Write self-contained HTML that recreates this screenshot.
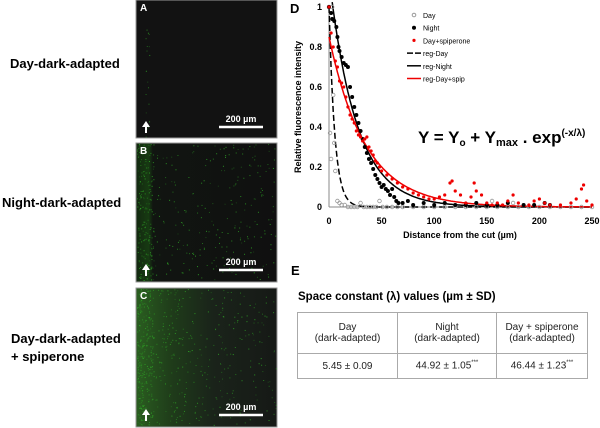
<!DOCTYPE html>
<html><head><meta charset="utf-8">
<style>
body{margin:0;background:#fff;font-family:"Liberation Sans",Arial,sans-serif;}
#wrap{position:relative;width:600px;height:428px;overflow:hidden;}
.lbl{position:absolute;font-weight:bold;font-size:13px;color:#000;}
table{border-collapse:collapse;font-size:10px;color:#222;}
</style></head><body>
<div id="wrap">
<div class="lbl" style="left:10px;top:56px">Day-dark-adapted</div>
<div class="lbl" style="left:2px;top:195px">Night-dark-adapted</div>
<div class="lbl" style="left:11px;top:330px;line-height:18px">Day-dark-adapted<br>+ spiperone</div>
<svg id="micro" width="600" height="428" style="position:absolute;left:0;top:0"></svg>
<svg id="chart" width="600" height="428" style="position:absolute;left:0;top:0"></svg>
<div class="lbl" style="left:291px;top:263px;font-size:13px">E</div>
<div style="position:absolute;left:298px;top:291px;font-size:11.5px;font-weight:bold">Space constant (λ) values (µm ± SD)</div>
<table style="position:absolute;left:297px;top:312px;width:291px;height:67px;border:1.5px solid #333">
<tr style="height:41px"><td style="border:1px solid #aaa;text-align:center;width:97px">Day<br>(dark-adapted)</td><td style="border:1px solid #aaa;text-align:center;width:96px">Night<br>(dark-adapted)</td><td style="border:1px solid #aaa;text-align:center">Day + spiperone<br>(dark-adapted)</td></tr>
<tr><td style="border:1px solid #aaa;text-align:center">5.45 ± 0.09</td><td style="border:1px solid #aaa;text-align:center">44.92 ± 1.05<sup style="font-size:6px">***</sup></td><td style="border:1px solid #aaa;text-align:center">46.44 ± 1.23<sup style="font-size:6px">***</sup></td></tr>
</table>
</div>
<script>
// ---- chart data ----
const dayX=[0,1,2,3,4,5,6,8,10,12,15,18,21,24,27,30,33,36,39,42,45,48,51,55,60,65,70,80,90,100,110,120,130,140,150,155,160,170,175,180,190,200,210,220,230,240,250];
const dayY=[1,0.37,0.24,1,0.56,0.32,0.18,0.03,0.02,0.01,0.01,0.0,0.0,0.0,0.0,0.02,0.0,0.0,0.0,0.0,0.0,0.03,0.0,0.0,0.0,0.0,0.0,0.0,0.0,0.0,0.0,0.0,0.0,0.0,0.0,0.03,0.0,0.0,0.02,0.0,0.0,0.0,0.0,0.0,0.0,0.0,0.0];
const nightX=[0,2,3,5,7,8,9,10,12,14,16,18,20,22,24,26,28,30,32,34,36,38,40,42,44,46,48,50,52,54,56,58,60,62,64,66,70,75,80,90,100,110,120,130,140,150,160,170,185,195,205,210];
const nightY=[1,0.97,0.94,0.93,0.9,0.85,0.8,0.78,0.75,0.72,0.71,0.7,0.6,0.55,0.5,0.46,0.42,0.38,0.34,0.3,0.27,0.24,0.22,0.19,0.16,0.14,0.12,0.1,0.11,0.09,0.08,0.06,0.09,0.05,0.03,0.02,0.02,0.03,0.01,0.02,0.01,0.02,0.01,0.01,0.02,0.01,0.01,0.02,0.01,0.01,0.02,0.01];
const spipX=[0,2,4,6,8,10,12,14,16,18,20,22,24,26,28,30,32,34,36,38,40,42,44,46,48,50,55,60,65,70,75,80,85,90,95,100,105,110,115,117,120,125,130,135,138,140,145,150,155,160,165,170,175,180,190,195,200,205,210,220,230,235,240,242,245,250];
const spipY=[1,0.87,0.8,0.73,0.7,0.63,0.62,0.6,0.55,0.5,0.46,0.44,0.42,0.38,0.36,0.35,0.33,0.34,0.35,0.3,0.28,0.26,0.23,0.22,0.2,0.18,0.16,0.14,0.12,0.1,0.09,0.07,0.06,0.05,0.04,0.04,0.05,0.06,0.12,0.13,0.08,0.06,0.02,0.05,0.12,0.08,0.06,0.02,0.01,0.02,0.01,0.03,0.06,0.02,0.01,0.03,0.04,0.02,0.01,0.01,0.02,0.04,0.09,0.11,0.03,0.01];
const fitYmax=[1.0,1.15,0.85];
const fitLambda=[5.45,26,34.6];
const fitStart=[0,3,0];
const xTicks=[0,50,100,150,200,250];
const yTicks=[0,0.2,0.4,0.6,0.8,1];

const NS='http://www.w3.org/2000/svg';
function mk(p,t,a){const e=document.createElementNS(NS,t);for(const k in a)e.setAttribute(k,a[k]);p.appendChild(e);return e;}
const X0=329,X1=592,Y0=207,Y1=7;
const sx=v=>X0+(v/250)*(X1-X0);
const sy=v=>Y0-v*(Y0-Y1);
const c=document.getElementById('chart');
let e;
e=mk(c,'text',{x:290,y:13,'font-size':13,'font-weight':'bold','font-family':'Liberation Sans'});e.textContent='D';


e=mk(c,'line',{x1:X0,y1:Y1,x2:X0,y2:Y0,stroke:'#888'});


e=mk(c,'line',{x1:X0,y1:Y0,x2:X1,y2:Y0,stroke:'#888'});


xTicks.forEach(t=>{e=mk(c,'text',{x:sx(t),y:224,'font-size':9,'font-weight':'bold','text-anchor':'middle','font-family':'Liberation Sans'});e.textContent=t;

});
yTicks.forEach(t=>{e=mk(c,'text',{x:X0-7,y:sy(t)+3,'font-size':9,'font-weight':'bold','text-anchor':'end','font-family':'Liberation Sans'});e.textContent=t;

});
e=mk(c,'text',{x:460,y:238,'font-size':9,'font-weight':'bold','text-anchor':'middle','font-family':'Liberation Sans'});e.textContent='Distance from the cut (µm)';


e=mk(c,'text',{x:0,y:0,'font-size':9,'font-weight':'bold','text-anchor':'middle','font-family':'Liberation Sans',transform:'translate(301,107) rotate(-90)'});e.textContent='Relative fluorescence intensity';


const fitCol=['#000','#000','#e00'];
for(let k=0;k<3;k++){let d='';for(let x=fitStart[k];x<=250;x+=1){d+=(d?'L':'M')+sx(x).toFixed(1)+','+sy(fitYmax[k]*Math.exp(-x/fitLambda[k])).toFixed(1);}
e=mk(c,'path',{d:d,fill:'none',stroke:fitCol[k],'stroke-width':1.5,'stroke-dasharray':k==0?'6,3':'none'});

}
dayX.forEach((x,i)=>{e=mk(c,'circle',{cx:sx(x),cy:sy(dayY[i]),r:1.8,fill:'none',stroke:'#999','stroke-width':0.8});

});
nightX.forEach((x,i)=>{e=mk(c,'circle',{cx:sx(x),cy:sy(nightY[i]),r:2,fill:'#000'});

});
spipX.forEach((x,i)=>{e=mk(c,'circle',{cx:sx(x),cy:sy(spipY[i]),r:1.6,fill:'#e00'});

});
const leg=[['Day','o'],['Night','n'],['Day+spiperone','s'],['reg-Day','d'],['reg-Night','l'],['reg-Day+spip','r']];
leg.forEach((l,i)=>{const y=15+i*12.7;
if(l[1]=='o')mk(c,'circle',{cx:414,cy:y,r:1.8,fill:'none',stroke:'#999'});
if(l[1]=='n')mk(c,'circle',{cx:414,cy:y,r:2,fill:'#000'});
if(l[1]=='s')mk(c,'circle',{cx:414,cy:y,r:1.6,fill:'#e00'});
if(l[1]=='d')mk(c,'line',{x1:407,y1:y,x2:421,y2:y,stroke:'#000','stroke-width':1.5,'stroke-dasharray':'6,2'});
if(l[1]=='l')mk(c,'line',{x1:407,y1:y,x2:421,y2:y,stroke:'#000','stroke-width':1.5});
if(l[1]=='r')mk(c,'line',{x1:407,y1:y,x2:421,y2:y,stroke:'#e00','stroke-width':1.5});
e=mk(c,'text',{x:423,y:y+3,'font-size':7,'font-family':'Liberation Sans'});e.textContent=l[0];

});
e=mk(c,'text',{x:418,y:143,'font-size':17,'font-weight':'bold','font-family':'Liberation Sans'});
e.innerHTML='Y = Y<tspan font-size="10" dy="3">o</tspan><tspan dy="-3"> + Y</tspan><tspan font-size="11" dy="3">max</tspan><tspan dy="-3"> . exp</tspan><tspan font-size="10" dy="-7">(-x/λ)</tspan>';



// ---- micrographs (texture) ----
const m=document.getElementById('micro');
let seed=7;const rnd=()=>{seed=(seed*16807)%2147483647;return seed/2147483647;};
const defs=mk(m,'defs',{});
const g1=mk(defs,'linearGradient',{id:'gB'});mk(g1,'stop',{offset:'0','stop-color':'#132810'});mk(g1,'stop',{offset:'0.09','stop-color':'#173a12'});mk(g1,'stop',{offset:'0.12','stop-color':'#111511'});mk(g1,'stop',{offset:'1','stop-color':'#101010'});
const g2=mk(defs,'linearGradient',{id:'gC'});mk(g2,'stop',{offset:'0','stop-color':'#2a5e20'});mk(g2,'stop',{offset:'0.25','stop-color':'#1f3c1a'});mk(g2,'stop',{offset:'0.55','stop-color':'#1a231a'});mk(g2,'stop',{offset:'1','stop-color':'#161916'});
const panels=[[0,'#121212',20,'A'],[143,'url(#gB)',450,'B'],[288,'url(#gC)',600,'C']];
panels.forEach(p=>{const y=p[0];
e=mk(m,'rect',{x:136,y:y,width:141,height:y==0?138:139,fill:p[1],stroke:'#999','stroke-width':1});


for(let i=0;i<p[2];i++){let xx=rnd();if(rnd()<0.35)xx=xx*0.12;if(p[3]=='C'&&rnd()<0.3)xx=xx*0.35;if(p[3]=='A'){xx=0.06+rnd()*0.03;}
mk(m,'rect',{x:137+xx*139,y:y+1+rnd()*136,width:1,height:1,fill:'#2fa526',opacity:0.3+rnd()*0.6});}
e=mk(m,'text',{x:140,y:y+11,'font-size':10,'font-weight':'bold',fill:'#fff','font-family':'Liberation Sans'});e.textContent=p[3];


mk(m,'line',{x1:219,y1:y+127,x2:263,y2:y+127,stroke:'#fff','stroke-width':2.5});
e=mk(m,'text',{x:241,y:y+122,'font-size':9,'font-weight':'bold',fill:'#fff','text-anchor':'middle','font-family':'Liberation Sans'});e.textContent='200 µm';


mk(m,'path',{d:`M145,${y+133}v-6h-3l4,-6l4,6h-3v6z`,fill:'#fff'});
});
</script>
</body></html>
